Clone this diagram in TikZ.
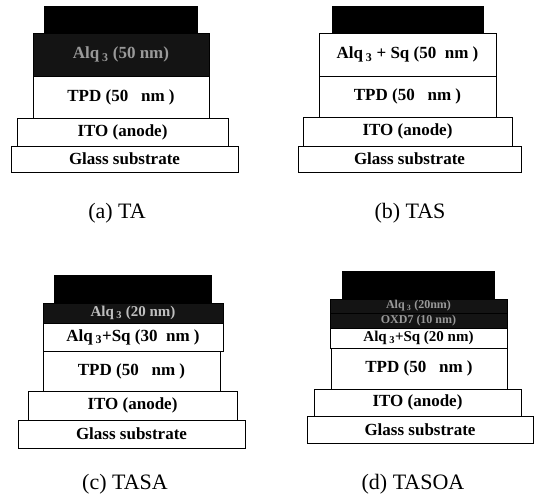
\documentclass[tikz,border=0pt]{standalone}
\usepackage{fontspec}
\setmainfont{Liberation Serif}
\begin{document}
\begin{tikzpicture}[x=1pt,y=-1pt,
  layer/.style={draw=black,line width=0.8pt,fill=white,anchor=north west,inner sep=0pt,outer sep=0pt,
    font=\bfseries\fontsize{17}{17}\selectfont},
  cathode/.style={layer,fill=black},
  darklayer/.style={layer,fill=black!92,text=black!40},
  smalltxt/.style={font=\bfseries\fontsize{15}{15}\selectfont},
  tinytxt/.style={font=\bfseries\fontsize{12}{12}\selectfont},
  caption/.style={font=\fontsize{22}{22}\selectfont,inner sep=0pt}]
\useasboundingbox (0,0) rectangle (539,494);
% (a) TA
\node[cathode,minimum width=153pt,minimum height=27pt] (acat) at (44,6) {};
\node[darklayer,minimum width=176pt,minimum height=43pt] (aalq) at (33,33) {Alq\,\textsubscript{3} (50 nm)};
\node[layer,minimum width=176pt,minimum height=42pt] (atpd) at (33,76) {TPD (50\ \ \ nm )};
\node[layer,minimum width=211pt,minimum height=28pt] (aito) at (17,118) {ITO (anode)};
\node[layer,minimum width=227pt,minimum height=26pt] (agl) at (11,146) {Glass substrate};
\node[caption] (acap) at (117,213) {(a) TA};
% (b) TAS
\node[cathode,minimum width=151pt,minimum height=27pt] (bcat) at (332,6) {};
\node[layer,minimum width=177pt,minimum height=43pt] (balq) at (319,33) {Alq\,\textsubscript{3} + Sq (50\ \ nm )};
\node[layer,minimum width=177pt,minimum height=41pt] (btpd) at (319,76) {TPD (50\ \ \ nm )};
\node[layer,minimum width=209pt,minimum height=29pt] (bito) at (303,117) {ITO (anode)};
\node[layer,minimum width=223pt,minimum height=26pt] (bgl) at (298,146) {Glass substrate};
\node[caption] (bcap) at (410,213) {(b) TAS};
% (c) TASA
\node[cathode,minimum width=157pt,minimum height=28pt] (ccat) at (54,275) {};
\node[darklayer,smalltxt,minimum width=180pt,minimum height=20pt,text=black!25] (calq) at (43,303) {Alq\,\textsubscript{3} (20 nm)};
\node[layer,minimum width=180pt,minimum height=28pt] (csq) at (43,323) {Alq\,\textsubscript{3}+Sq (30\ \ nm )};
\node[layer,minimum width=177pt,minimum height=40pt] (ctpd) at (43,351) {TPD (50\ \ \ nm )};
\node[layer,minimum width=209pt,minimum height=29pt] (cito) at (28,391) {ITO (anode)};
\node[layer,minimum width=227pt,minimum height=28pt] (cgl) at (18,420) {Glass substrate};
\node[caption] (ccap) at (125,484) {(c) TASA};
% (d) TASOA
\node[cathode,minimum width=152pt,minimum height=28pt] (dcat) at (342,271) {};
\node[darklayer,tinytxt,minimum width=177pt,minimum height=14pt] (dalq) at (330,299) {Alq\,\textsubscript{3} (20nm)};
\node[darklayer,tinytxt,minimum width=177pt,minimum height=15pt] (doxd) at (330,313) {OXD7 (10 nm)};
\node[layer,smalltxt,minimum width=177pt,minimum height=20pt] (dsq) at (330,328) {Alq\,\textsubscript{3}+Sq\ (20\ nm)};
\node[layer,minimum width=176pt,minimum height=41pt] (dtpd) at (331,348) {TPD (50\ \ \ nm )};
\node[layer,minimum width=207pt,minimum height=27pt] (dito) at (314,389) {ITO (anode)};
\node[layer,minimum width=226pt,minimum height=27pt] (dgl) at (307,416) {Glass substrate};
\node[caption] (dcap) at (413,484) {(d) TASOA};
\end{tikzpicture}
\end{document}
